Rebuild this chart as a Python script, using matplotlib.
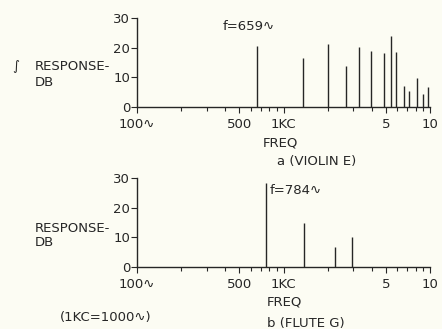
import matplotlib
matplotlib.use('Agg')
import matplotlib.pyplot as plt
from matplotlib.ticker import FixedLocator, NullFormatter

# spectral lines (Hz, dB)
violin_freq = [659, 1365, 2020, 2670, 3280, 3950, 4850, 5390, 5860, 6640, 7220, 8100, 9000, 9640]
violin_db = [20.6, 16.4, 21.4, 13.9, 20.1, 19.0, 18.3, 24.0, 18.4, 7.2, 5.4, 9.9, 4.4, 6.6]

flute_freq = [755, 1390, 2250, 2950]
flute_db = [28.3, 14.7, 6.6, 10.2]

tick_pos = [100, 500, 1000, 5000, 10000]
tick_labels = ['100∿', '500', '1KC', '5', '10']
minor_pos = [200, 300, 400, 600, 700, 800, 900, 2000, 3000, 4000, 6000, 7000, 8000, 9000]
y_ticks = [0, 10, 20, 30]

W, H = 442, 329
bg = '#fcfcf3'
ink = '#262626'
fs = 9.5

plt.rcParams['font.family'] = ['DejaVu Sans']

fig = plt.figure(figsize=(W / 100, H / 100), dpi=100, facecolor=bg)


def px(x, y):
    return x / W, 1 - y / H


def make_axes(top, bottom):
    ax = fig.add_axes([137 / W, 1 - bottom / H, 293 / W, (bottom - top) / H])
    ax.set_facecolor(bg)
    ax.set_xscale('log')
    ax.set_xlim(100, 10000)
    ax.set_ylim(0, 30)
    for s in ['top', 'right']:
        ax.spines[s].set_visible(False)
    for s in ['left', 'bottom']:
        ax.spines[s].set_color(ink)
        ax.spines[s].set_linewidth(1.0)
    ax.xaxis.set_major_locator(FixedLocator(tick_pos))
    ax.set_xticklabels(tick_labels)
    ax.xaxis.set_minor_locator(FixedLocator(minor_pos))
    ax.xaxis.set_minor_formatter(NullFormatter())
    ax.set_yticks(y_ticks)
    ax.set_yticklabels([str(v) for v in y_ticks])
    ax.tick_params(axis='x', which='major', length=4, width=0.8, color=ink,
                   labelsize=fs, labelcolor=ink, pad=4)
    ax.tick_params(axis='x', which='minor', length=3, width=0.8, color=ink)
    ax.tick_params(axis='y', length=4, width=0.8, color=ink,
                   labelsize=fs, labelcolor=ink, pad=1)
    return ax


ax1 = make_axes(18, 107)
ax1.vlines(violin_freq, 0, violin_db, color=ink, linewidth=1.0)
ax1.text(386, 27, 'f=659∿', fontsize=fs, color=ink, va='center')

ax2 = make_axes(178.3, 266.7)
ax2.vlines(flute_freq, 0, flute_db, color=ink, linewidth=1.0)
ax2.text(809, 26, 'f=784∿', fontsize=fs, color=ink, va='center')

# side labels and captions
fig.text(*px(12, 67), '∫', fontsize=fs, color=ink, va='center')
fig.text(*px(35, 66), 'RESPONSE-', fontsize=fs, color=ink, va='center')
fig.text(*px(35, 82), 'DB', fontsize=fs, color=ink, va='center')
fig.text(*px(263, 143), 'FREQ', fontsize=fs, color=ink, va='center')
fig.text(*px(277, 162), 'a (VIOLIN E)', fontsize=fs, color=ink, va='center')

fig.text(*px(35, 228), 'RESPONSE-', fontsize=fs, color=ink, va='center')
fig.text(*px(35, 242), 'DB', fontsize=fs, color=ink, va='center')
fig.text(*px(267, 302), 'FREQ', fontsize=fs, color=ink, va='center')
fig.text(*px(60, 317), '(1KC=1000∿)', fontsize=fs, color=ink, va='center')
fig.text(*px(267, 324), 'b (FLUTE G)', fontsize=fs, color=ink, va='center')

fig.savefig('out.png', dpi=100, facecolor=bg)
